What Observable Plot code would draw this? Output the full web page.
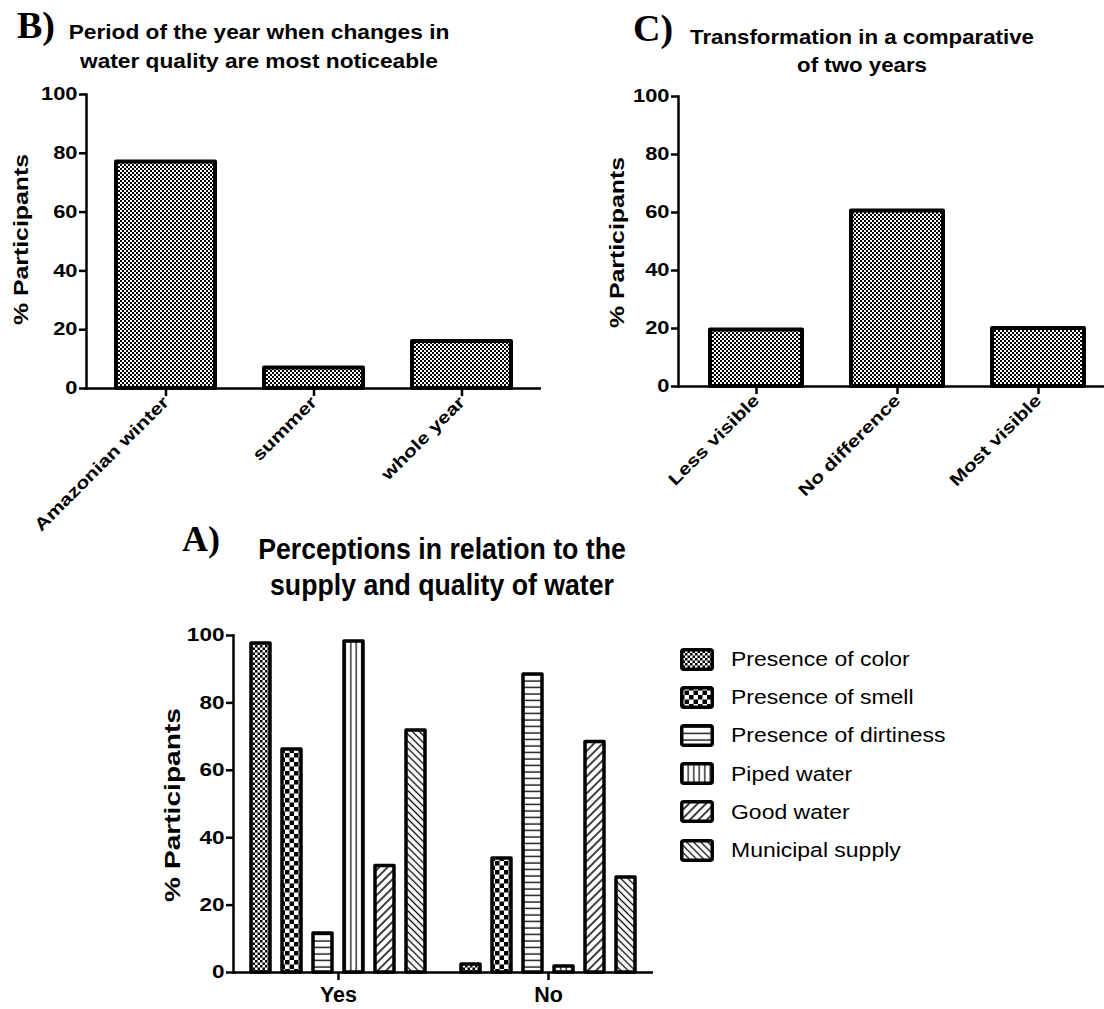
<!DOCTYPE html>
<html>
<head>
<meta charset="utf-8">
<script src="https://cdn.jsdelivr.net/npm/d3@7"></script>
<script src="https://cdn.jsdelivr.net/npm/@observablehq/plot@0.6"></script>
<style>
  html, body { margin: 0; padding: 0; background: #fff; overflow: hidden; }
  #wrap { position: relative; width: 1104px; height: 1009px; background: #fff; overflow: hidden; font-family: "Liberation Sans", Arial, sans-serif; color: #000; }
  .abs { position: absolute; }
  .panel { font-family: "Liberation Serif", "Times New Roman", serif; font-weight: bold; line-height: 1; }
  .title { font-weight: bold; text-align: center; white-space: nowrap; transform-origin: center top; }
  .ylab { font-weight: bold; white-space: nowrap; transform-origin: center center; }
  .leg { display: flex; align-items: center; font-size: 20.5px; white-space: nowrap; }
  .leg svg { margin-right: 17px; }
  .leg span { display: inline-block; transform: scaleX(1.12); transform-origin: left center; }
</style>
</head>
<body>
<svg width="0" height="0" style="position:absolute">
  <defs>
    <pattern id="pFine" width="4" height="4" patternUnits="userSpaceOnUse">
      <rect width="4" height="4" fill="#fff"/>
      <rect width="2" height="2" fill="#000"/>
      <rect x="2" y="2" width="2" height="2" fill="#000"/>
    </pattern>
    <pattern id="pColor" width="5" height="5" patternUnits="userSpaceOnUse">
      <rect width="5" height="5" fill="#fff"/>
      <rect width="2.5" height="2.5" fill="#000"/>
      <rect x="2.5" y="2.5" width="2.5" height="2.5" fill="#000"/>
    </pattern>
    <pattern id="pSmell" width="9" height="9" patternUnits="userSpaceOnUse">
      <rect width="9" height="9" fill="#fff"/>
      <rect width="4.5" height="4.5" fill="#000"/>
      <rect x="4.5" y="4.5" width="4.5" height="4.5" fill="#000"/>
    </pattern>
    <pattern id="pDirt" width="6" height="6.5" patternUnits="userSpaceOnUse">
      <rect width="6" height="6.5" fill="#fff"/>
      <line x1="0" x2="6" y1="3" y2="3" stroke="#000" stroke-width="1.3"/>
    </pattern>
    <pattern id="pPiped" width="5.5" height="6" patternUnits="userSpaceOnUse">
      <rect width="5.5" height="6" fill="#fff"/>
      <line x1="2.75" x2="2.75" y1="0" y2="6" stroke="#000" stroke-width="1.2"/>
    </pattern>
    <pattern id="pGood" width="6" height="6" patternUnits="userSpaceOnUse" patternTransform="rotate(45)">
      <rect width="6" height="6" fill="#fff"/>
      <line x1="3" x2="3" y1="0" y2="6" stroke="#000" stroke-width="1.5"/>
    </pattern>
    <pattern id="pMuni" width="5" height="5" patternUnits="userSpaceOnUse" patternTransform="rotate(-45)">
      <rect width="5" height="5" fill="#fff"/>
      <line x1="2.5" x2="2.5" y1="0" y2="5" stroke="#000" stroke-width="1.3"/>
    </pattern>
  </defs>
</svg>
<div id="wrap"></div>
<script>
// ---------- Data ----------
const periodCategories = ["Amazonian winter", "summer", "whole year"];
const periodValues = [77, 7, 16];

const transformCategories = ["Less visible", "No difference", "Most visible"];
const transformValues = [19.5, 60.5, 20];

const answerGroups = ["Yes", "No"];
const perceptionSeries = ["Presence of color", "Presence of smell", "Presence of dirtiness", "Piped water", "Good water", "Municipal supply"];
const yesValues = [97.6, 66.2, 11.6, 98.2, 31.6, 71.8];
const noValues = [2.4, 33.8, 88.4, 1.8, 68.4, 28.2];
const seriesPatterns = ["url(#pColor)", "url(#pSmell)", "url(#pDirt)", "url(#pPiped)", "url(#pGood)", "url(#pMuni)"];

const yTicks = [0, 20, 40, 60, 80, 100];

// ---------- Helpers ----------
const wrap = document.getElementById("wrap");
function place(el, left, top) {
  el.style.position = "absolute";
  el.style.left = left + "px";
  el.style.top = top + "px";
  wrap.appendChild(el);
  return el;
}
function div(cls, html, left, top, css) {
  const d = document.createElement("div");
  d.className = "abs " + cls;
  d.innerHTML = html;
  Object.assign(d.style, css || {});
  return place(d, left, top);
}
// widen tick labels horizontally along their own baseline (reference text is stretched)
function stretchTicks(svg, sel, k) {
  svg.querySelectorAll(sel).forEach(t => {
    t.setAttribute("transform", (t.getAttribute("transform") || "") + ` scale(${k},1)`);
  });
}
const baseStyle = {background: "transparent", overflow: "visible", fontFamily: "'Liberation Sans', Arial, sans-serif", fontWeight: "bold", color: "#000"};

// ---------- Chart B ----------
const periodData = periodCategories.map((c, i) => ({category: c, value: periodValues[i]}));
const chartB = Plot.plot({
  width: 545, height: 560,
  marginLeft: 86, marginRight: 4, marginTop: 94, marginBottom: 172,
  style: {...baseStyle, fontSize: "17.5px"},
  x: {domain: periodCategories, paddingInner: 0.33, paddingOuter: 0.2, axis: null},
  y: {domain: [0, 100], axis: null},
  marks: [
    Plot.barY(periodData, {x: "category", y: "value", fill: "url(#pFine)", stroke: "#000", strokeWidth: 4, strokeLinejoin: "round"}),
    Plot.ruleY([0], {stroke: "#000", strokeWidth: 2.5}),
    Plot.frame({anchor: "left", stroke: "#000", strokeWidth: 2.5}),
    Plot.axisY({ticks: yTicks, tickSize: 7, tickPadding: 2, strokeWidth: 2.5, label: null}),
    Plot.axisX({tickSize: 8, tickPadding: 3, tickRotate: -45, strokeWidth: 2.5, label: null, fontSize: 17})
  ]
});
stretchTicks(chartB, 'g[aria-label$="tick label"] text', 1.25);
place(chartB, 0, 0);

// ---------- Chart C ----------
const transformData = transformCategories.map((c, i) => ({category: c, value: transformValues[i]}));
const chartC = Plot.plot({
  width: 515, height: 560,
  marginLeft: 78, marginRight: 0, marginTop: 96, marginBottom: 174,
  style: {...baseStyle, fontSize: "17.5px"},
  x: {domain: transformCategories, paddingInner: 0.35, paddingOuter: 0.22, axis: null},
  y: {domain: [0, 100], axis: null},
  marks: [
    Plot.barY(transformData, {x: "category", y: "value", fill: "url(#pFine)", stroke: "#000", strokeWidth: 4, strokeLinejoin: "round"}),
    Plot.ruleY([0], {stroke: "#000", strokeWidth: 2.5}),
    Plot.frame({anchor: "left", stroke: "#000", strokeWidth: 2.5}),
    Plot.axisY({ticks: yTicks, tickSize: 7, tickPadding: 2, strokeWidth: 2.5, label: null}),
    Plot.axisX({tickSize: 8, tickPadding: 3, tickRotate: -45, strokeWidth: 2.5, label: null, fontSize: 17})
  ]
});
stretchTicks(chartC, 'g[aria-label$="tick label"] text', 1.25);
place(chartC, 600, 0);

// ---------- Chart A ----------
const perceptionData = [];
answerGroups.forEach(g => {
  const vals = g === "Yes" ? yesValues : noValues;
  perceptionSeries.forEach((s, i) => perceptionData.push({group: g, series: s, value: vals[i]}));
});
const chartA = Plot.plot({
  width: 505, height: 409,
  marginLeft: 83, marginRight: 2, marginTop: 35, marginBottom: 37,
  style: {...baseStyle, fontSize: "18.5px"},
  fx: {domain: answerGroups, padding: 0},
  x: {domain: perceptionSeries, paddingInner: 0.4, paddingOuter: 0.565, axis: null},
  y: {domain: [0, 100], axis: null},
  color: {type: "ordinal", domain: perceptionSeries, range: seriesPatterns},
  marks: [
    Plot.barY(perceptionData, {fx: "group", x: "series", y: "value", fill: "series", stroke: "#000", strokeWidth: 3.5, strokeLinejoin: "round"}),
    Plot.ruleY([0], {stroke: "#000", strokeWidth: 2.5}),
    Plot.frame({anchor: "left", facetAnchor: "left", stroke: "#000", strokeWidth: 2.5}),
    Plot.axisY({ticks: yTicks, tickSize: 7, tickPadding: 2, strokeWidth: 2.5, label: null}),
    Plot.axisFx({anchor: "bottom", tickSize: 8, tickPadding: 6, strokeWidth: 2.5, label: null, fontSize: 21.5})
  ]
});
stretchTicks(chartA, 'g[aria-label="y-axis tick label"] text', 1.22);
place(chartA, 150, 600);

// ---------- Titles & labels ----------
div("panel", "B)", 17, 6, {fontSize: "38px"});
div("title", "Period of the year when changes in<br>water quality are most noticeable", 259 - 250, 17, {width: "500px", fontSize: "21px", lineHeight: "29px", transform: "scaleX(1.08)"});

div("panel", "C)", 633, 9, {fontSize: "38px"});
div("title", "Transformation in a comparative<br>of two years", 862 - 250, 23, {width: "500px", fontSize: "21px", lineHeight: "27.5px", transform: "scaleX(1.06)"});

div("panel", "A)", 182, 521, {fontSize: "36px"});
div("title", "Perceptions in relation to the<br>supply and quality of water", 442 - 250, 532, {width: "500px", fontSize: "29px", lineHeight: "35.5px", transform: "scaleX(0.92)"});

function ylab(text, cx, cy, size, k) {
  const d = div("ylab", text, 0, 0, {fontSize: size + "px"});
  const w = d.offsetWidth, h = d.offsetHeight;
  d.style.left = (cx - w / 2) + "px";
  d.style.top = (cy - h / 2) + "px";
  d.style.transform = `rotate(-90deg) scaleX(${k})`;
}
ylab("% Participants", 22, 239, 20, 1.24);
ylab("% Participants", 618, 242, 20, 1.24);
ylab("% Participants", 172, 805, 22.5, 1.25);

// ---------- Legend (chart A) ----------
perceptionSeries.forEach((s, i) => {
  const row = document.createElement("div");
  row.className = "leg";
  row.innerHTML = `<svg width="34" height="23"><rect x="1.75" y="1.75" width="30.5" height="19.5" rx="2" fill="${seriesPatterns[i]}" stroke="#000" stroke-width="3.5"/></svg><span>${s}</span>`;
  place(row, 680, 647 + i * 38.2);
});
</script>
</body>
</html>
